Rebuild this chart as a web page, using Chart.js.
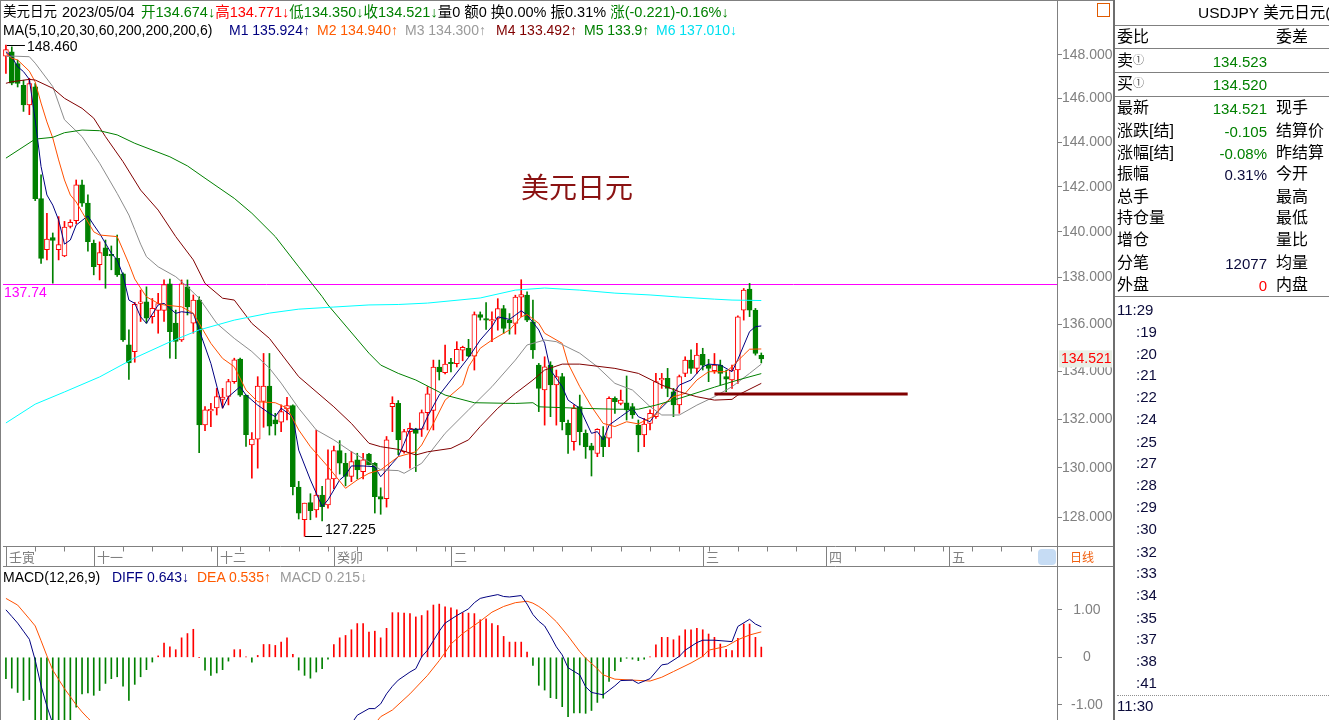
<!DOCTYPE html>
<html><head><meta charset="utf-8">
<title>美元日元</title>
<script src="https://cdn.jsdelivr.net/npm/chart.js@4.4.1/dist/chart.umd.min.js"></script>
<style>
*{box-sizing:border-box}
html,body{margin:0;padding:0;background:#fff;overflow:hidden}
body{width:1329px;height:720px;position:relative;font-family:"Liberation Sans","Noto Sans CJK SC",sans-serif;color:#000}
.a{position:absolute;white-space:nowrap;line-height:1}
.h{font-size:14px}
.h1{font-size:14.5px}
canvas{position:absolute}
.ln{position:absolute;background:#808080}
.rv{font-size:15px}
.cj{font-size:16px}
.tm{font-size:15px;color:#0b0b3b}
.g{color:#008000}.r{color:#ff0000}
</style></head><body>
<canvas id="c1" width="1110" height="567" style="left:3px;top:0px"></canvas>
<canvas id="c2" width="1110" height="193" style="left:3px;top:547px"></canvas>

<div class="ln" style="left:0;top:0;width:1114px;height:1px"></div>
<div class="ln" style="left:0;top:0;width:1px;height:720px"></div>
<div class="ln" style="left:1057px;top:0;width:1px;height:40px"></div>
<div class="ln" style="left:1113px;top:0;width:2px;height:720px;background:#6e6e6e"></div>

<!-- header line 1 -->
<div class="a" style="left:3px;top:5px;font-size:13.5px">美元日元</div>
<div class="a h1" style="left:62px;top:5px">2023/05/04</div>
<div class="a h1" style="left:141px;top:5px"><span class="g">开134.674↓</span><span class="r">高134.771↓</span><span class="g">低134.350↓</span><span class="g">收134.521↓</span>量0 额0 换0.00% 振0.31% <span class="g">涨(-0.221)-0.16%↓</span></div>
<!-- header line 2 -->
<div class="a h" style="left:3px;top:23px">MA(5,10,20,30,60,200,200,200,6)</div>
<div class="a h" style="left:229px;top:23px;color:#000080">M1 135.924↑</div>
<div class="a h" style="left:317px;top:23px;color:#ff5a00">M2 134.940↑</div>
<div class="a h" style="left:405px;top:23px;color:#9a9a9a">M3 134.300↑</div>
<div class="a h" style="left:496px;top:23px;color:#800000">M4 133.492↑</div>
<div class="a h" style="left:584px;top:23px;color:#008000">M5 133.9↑</div>
<div class="a h" style="left:656px;top:23px;color:#00e0f0">M6 137.010↓</div>

<div class="a" style="left:521px;top:172px;font-size:28px;color:#8a1212;font-family:'Noto Sans CJK SC',sans-serif">美元日元</div>

<!-- MACD header -->
<div class="a h" style="left:3px;top:570px">MACD(12,26,9)</div>
<div class="a h" style="left:112px;top:570px;color:#000080">DIFF 0.643↓</div>
<div class="a h" style="left:197px;top:570px;color:#ff5a00">DEA 0.535↑</div>
<div class="a h" style="left:280px;top:570px;color:#9a9a9a">MACD 0.215↓</div>

<!-- icon -->
<div class="a" style="left:1097px;top:3px;width:13px;height:14px;border:1px solid #e05a00;background:#fff"></div>

<!-- right panel -->
<div class="a" style="left:1198px;top:5px;font-size:15.5px">USDJPY 美元日元(</div>
<div class="ln" style="left:1115px;top:25px;width:214px;height:1px"></div>
<div class="ln" style="left:1115px;top:48px;width:214px;height:1px"></div>
<div class="ln" style="left:1115px;top:72px;width:214px;height:1px"></div>
<div class="ln" style="left:1115px;top:96px;width:214px;height:1px"></div>
<div class="ln" style="left:1115px;top:296px;width:214px;height:1px"></div>

<div class="a cj" style="left:1117px;top:29px">委比</div>
<div class="a cj" style="left:1276px;top:29px">委差</div>
<div class="a cj" style="left:1117px;top:53px">卖<span style="font-size:11px;color:#555;vertical-align:2px">①</span></div>
<div class="a rv" style="right:62px;top:54px;color:#008000">134.523</div>
<div class="a cj" style="left:1117px;top:76px">买<span style="font-size:11px;color:#555;vertical-align:2px">①</span></div>
<div class="a rv" style="right:62px;top:77px;color:#008000">134.520</div>
<div class="a cj" style="left:1117px;top:100px">最新</div>
<div class="a rv" style="right:62px;top:101px;color:#008000">134.521</div>
<div class="a cj" style="left:1276px;top:100px">现手</div>
<div class="a cj" style="left:1117px;top:123px">涨跌[结]</div>
<div class="a rv" style="right:62px;top:124px;color:#008000">-0.105</div>
<div class="a cj" style="left:1276px;top:123px">结算价</div>
<div class="a cj" style="left:1117px;top:145px">涨幅[结]</div>
<div class="a rv" style="right:62px;top:146px;color:#008000">-0.08%</div>
<div class="a cj" style="left:1276px;top:145px">昨结算</div>
<div class="a cj" style="left:1117px;top:166px">振幅</div>
<div class="a rv" style="right:62px;top:167px;color:#0b0b3b">0.31%</div>
<div class="a cj" style="left:1276px;top:166px">今开</div>
<div class="a cj" style="left:1117px;top:189px">总手</div>
<div class="a cj" style="left:1276px;top:189px">最高</div>
<div class="a cj" style="left:1117px;top:210px">持仓量</div>
<div class="a cj" style="left:1276px;top:210px">最低</div>
<div class="a cj" style="left:1117px;top:232px">增仓</div>
<div class="a cj" style="left:1276px;top:232px">量比</div>
<div class="a cj" style="left:1117px;top:255px">分笔</div>
<div class="a rv" style="right:62px;top:256px;color:#0b0b3b">12077</div>
<div class="a cj" style="left:1276px;top:255px">均量</div>
<div class="a cj" style="left:1117px;top:277px">外盘</div>
<div class="a rv" style="right:62px;top:278px;color:#ff0000">0</div>
<div class="a cj" style="left:1276px;top:277px">内盘</div>

<div class="a tm" style="left:1117px;top:302px">11:29</div>
<div class="a tm" style="left:1136px;top:324px">:19</div>
<div class="a tm" style="left:1136px;top:346px">:20</div>
<div class="a tm" style="left:1136px;top:367px">:21</div>
<div class="a tm" style="left:1136px;top:389px">:22</div>
<div class="a tm" style="left:1136px;top:411px">:24</div>
<div class="a tm" style="left:1136px;top:434px">:25</div>
<div class="a tm" style="left:1136px;top:455px">:27</div>
<div class="a tm" style="left:1136px;top:477px">:28</div>
<div class="a tm" style="left:1136px;top:499px">:29</div>
<div class="a tm" style="left:1136px;top:521px">:30</div>
<div class="a tm" style="left:1136px;top:544px">:32</div>
<div class="a tm" style="left:1136px;top:565px">:33</div>
<div class="a tm" style="left:1136px;top:587px">:34</div>
<div class="a tm" style="left:1136px;top:610px">:35</div>
<div class="a tm" style="left:1136px;top:631px">:37</div>
<div class="a tm" style="left:1136px;top:653px">:38</div>
<div class="a tm" style="left:1136px;top:675px">:41</div>
<div class="a" style="left:1117px;top:695px;width:212px;height:0;border-top:1px dotted #909090"></div>
<div class="a tm" style="left:1117px;top:698px">11:30</div>

<script>
// ---------------- data ----------------
const slotCount = 180;
const candleOpen = [147.95,148.15,147.60,146.60,145.70,146.53,141.47,139.22,139.75,139.22,
138.94,140.24,140.49,142.08,141.27,139.50,138.56,139.30,139.01,138.84,
138.16,135.12,134.83,136.89,136.95,136.32,136.59,136.59,137.73,136.04,
135.33,137.60,136.04,137.03,131.76,132.34,132.46,132.82,132.94,133.56,
134.51,133.00,130.93,131.17,132.73,133.38,131.97,131.87,132.42,132.56,
129.21,127.89,128.58,128.29,128.89,128.49,129.54,130.70,130.18,129.64,
130.32,129.84,130.56,130.18,128.82,128.74,132.52,132.66,130.66,131.48,
131.58,131.58,132.27,132.36,134.18,133.94,134.37,134.32,134.89,134.97,
134.64,136.41,136.24,136.14,136.24,136.66,136.17,136.03,137.16,137.25,
136.10,134.26,133.21,134.26,133.42,133.77,131.82,131.07,132.52,131.41,
130.90,130.58,131.28,131.21,132.86,132.65,132.68,132.52,131.75,131.34,
131.82,132.10,133.63,133.70,133.14,132.59,133.91,134.47,134.12,134.71,
134.26,134.02,134.26,133.77,133.63,134.05,136.60,137.50,136.60,134.674];
const candleHigh = [148.46,148.38,147.76,146.83,146.92,146.68,142.53,140.82,139.95,140.67,
140.46,140.53,142.30,142.30,141.64,139.64,139.56,139.64,139.38,139.86,
138.21,135.75,136.93,137.46,137.60,137.10,137.32,137.90,137.94,136.60,
137.90,137.90,137.25,137.17,132.52,132.66,133.28,133.28,133.66,134.55,
134.55,133.00,131.44,133.77,134.75,134.75,132.24,132.59,132.91,132.59,
129.44,128.56,128.94,131.54,129.24,130.73,130.89,131.11,130.59,130.66,
130.59,130.59,130.59,130.21,129.18,131.28,132.93,132.77,131.58,131.83,
131.62,132.38,133.35,134.47,134.47,135.11,134.54,135.25,135.06,135.35,
136.52,136.52,136.92,136.52,137.09,136.80,136.45,137.24,137.91,137.39,
137.03,134.33,134.61,134.40,134.05,133.91,131.96,132.59,133.00,131.55,
131.00,131.60,131.69,132.93,132.93,133.21,133.80,132.65,131.96,132.03,
132.38,133.91,133.91,134.12,133.28,133.84,134.61,134.90,135.18,134.97,
134.50,134.75,134.47,134.05,134.26,136.35,137.53,137.75,136.67,134.771];
const candleLow = [147.15,146.62,146.52,145.40,145.25,141.38,138.62,138.77,137.76,138.77,
138.91,140.17,140.35,141.12,139.15,138.12,137.90,137.54,138.34,138.05,
135.26,133.66,134.38,136.11,136.04,136.04,135.61,136.11,134.55,134.53,
135.26,136.39,135.61,130.61,131.52,131.69,132.17,132.46,132.59,133.49,
132.94,130.87,129.57,129.98,131.66,131.34,131.34,131.48,131.97,128.89,
127.92,127.225,127.89,127.99,127.84,128.36,129.14,129.74,129.26,129.43,
129.54,129.54,130.11,128.16,128.11,128.40,131.48,130.53,130.59,129.98,
129.84,131.28,131.55,131.55,133.63,133.89,133.97,134.18,134.44,134.61,
134.05,136.17,135.77,135.25,135.74,135.60,135.57,135.57,136.31,136.10,
134.54,132.31,131.75,132.10,131.75,131.55,130.58,130.72,130.93,130.38,
129.66,130.45,130.45,130.86,132.24,132.59,131.96,132.03,130.65,130.86,
131.55,132.03,133.28,132.93,132.10,132.24,133.77,133.91,133.91,134.05,
133.56,133.91,133.42,133.14,133.28,133.49,136.17,136.32,134.68,134.350];
const candleClose = [148.25,146.70,146.68,145.70,146.68,141.47,138.84,139.68,139.62,139.44,
140.21,140.42,142.08,141.27,139.57,138.48,139.09,138.96,138.94,138.12,
135.33,134.35,136.85,136.95,136.25,136.67,136.88,137.70,135.68,135.26,
137.73,136.74,137.03,131.76,132.38,132.40,132.94,132.92,133.56,134.48,
133.00,131.35,131.17,133.38,133.38,131.71,131.80,132.31,132.56,129.23,
128.15,128.56,128.26,128.89,128.42,129.54,130.70,130.18,129.64,130.25,
129.91,130.32,130.12,128.82,128.72,131.14,132.66,131.14,131.48,131.62,
131.41,132.27,133.05,134.18,133.97,134.30,134.32,134.92,135.01,134.64,
136.41,136.28,136.17,136.19,136.66,135.81,136.05,137.16,137.27,136.17,
134.90,133.28,134.19,133.42,133.77,131.89,131.34,132.45,131.48,130.86,
130.72,131.58,130.86,132.86,132.72,132.79,132.38,132.17,131.34,131.79,
132.24,133.56,133.70,133.28,132.59,133.77,134.47,134.12,134.68,134.26,
134.12,134.26,133.91,133.67,134.05,136.31,137.46,136.60,134.75,134.521];

const priceTicks = [128,130,132,134,136,138,140,142,144,146,148];

const ma1Idx = [0,1,2,3,4,5,6,7,8,9,10,11,12,14,15,16,18,19,20,21,22,23,24,26,27,29,30,32,33,35,37,38,40,41,43,45,46,47,49,50,52,54,55,57,58,59,61,63,64,66,67,68,69,71,72,74,76,78,79,81,83,84,86,88,89,91,92,93,95,96,98,100,101,102,103,105,107,108,110,111,113,115,117,119,120,122,124,125,127,128,129];
const ma1Val = [148.15,147.92,147.46,147.23,146.87,145.01,142.90,141.63,141.18,140.52,139.46,139.64,140.30,140.70,140.30,139.93,139.06,138.77,138.11,137.03,136.89,136.31,136.03,136.82,136.89,136.46,136.53,136.46,135.75,134.33,132.45,132.93,133.35,133.00,132.58,132.24,132.10,132.45,132.10,130.72,129.50,128.42,128.69,129.50,129.70,130.07,130.07,130.04,129.63,130.18,130.45,130.99,131.58,131.58,132.10,133.00,133.63,134.26,134.58,135.32,135.89,136.31,136.20,136.57,136.39,135.75,135.18,134.05,133.35,132.79,132.45,131.41,131.48,131.14,131.75,132.10,132.45,132.10,131.89,132.24,132.72,133.42,133.63,134.19,134.30,134.26,133.98,134.50,135.68,135.89,135.92];
const ma2Idx = [0,1,2,4,5,6,7,8,9,10,11,12,13,15,16,19,20,21,22,23,24,26,27,30,32,33,35,37,39,41,43,46,48,50,52,55,58,60,62,64,67,70,71,73,75,78,79,81,83,86,88,89,91,92,95,96,98,100,101,102,104,106,108,111,112,114,116,118,120,123,124,126,127,129];
const ma2Val = [148.08,147.85,147.77,147.25,146.75,145.78,144.92,144.19,143.20,142.30,141.63,141.32,140.87,140.00,139.86,139.79,139.20,138.60,137.94,137.55,137.17,136.89,136.82,136.74,136.46,136.03,135.18,134.54,134.19,133.21,132.72,132.68,132.46,131.55,130.86,130.04,129.16,129.50,129.77,129.91,130.45,130.65,130.93,131.82,132.79,133.42,134.19,134.97,135.32,135.75,136.31,136.41,136.03,135.61,135.18,134.33,133.35,132.52,132.17,131.82,131.69,131.89,131.80,132.17,132.58,132.93,133.07,133.63,133.98,133.98,134.19,134.69,134.93,134.94];
const ma3Idx = [0,1,4,5,8,10,13,16,19,21,22,23,24,26,29,31,33,36,39,42,45,47,50,53,56,59,62,64,67,68,71,75,79,83,87,89,92,94,98,101,104,107,110,112,115,118,121,124,127,129];
const ma3Val = [147.92,147.95,147.92,147.62,146.54,145.02,144.25,143.05,141.70,140.74,140.10,139.46,138.91,138.47,138.04,137.60,137.11,136.03,135.39,134.83,134.13,133.50,132.45,131.55,131.14,130.65,130.24,129.91,129.88,129.77,130.18,131.41,132.38,133.35,134.47,135.11,135.32,135.25,134.76,134.19,133.49,133.21,132.52,132.17,132.17,132.58,132.93,133.35,133.91,134.30];
const ma4Idx = [0,1,4,5,8,10,13,15,17,20,23,26,29,32,34,37,39,42,45,50,56,59,62,64,67,70,72,76,79,81,84,87,90,92,95,98,104,108,112,115,118,121,124,125,129];
const ma4Val = [146.69,146.76,146.87,146.84,146.46,146.00,145.54,145.09,144.25,143.12,141.85,140.96,139.79,138.77,137.75,137.11,137.03,136.03,135.39,133.77,132.51,131.82,131.00,130.86,130.75,130.52,130.65,130.79,131.14,131.69,132.45,133.07,133.63,134.05,134.30,134.30,134.12,133.91,133.42,133.14,132.93,132.79,132.82,133.00,133.49];
const ma5Idx = [0,5,8,10,13,16,19,22,28,31,34,39,42,46,50,54,55,62,64,67,70,75,80,87,90,91,98,104,108,111,115,121,125,129];
const ma5Val = [143.28,144.14,144.22,144.43,144.55,144.52,144.33,143.95,143.34,142.93,142.38,141.48,140.82,139.79,138.47,137.18,136.82,134.76,134.26,133.91,133.63,133.00,132.68,132.65,132.68,132.51,132.45,132.41,132.41,132.58,132.86,133.33,133.63,133.90];
const ma6Idx = [0,5,10,16,22,28,33,39,45,50,56,62,67,72,81,87,92,98,104,110,115,121,124,129];
const ma6Val = [131.84,132.62,133.13,133.76,134.56,135.24,135.75,136.17,136.47,136.64,136.73,136.82,136.84,136.90,137.12,137.46,137.55,137.46,137.33,137.25,137.16,137.07,137.03,137.01];

const refLevel = 137.74;
const drawnLevel = 133.04, drawnFrom = 121, drawnTo = 154;

const monthNames = ['壬寅','十一','十二','癸卯','二','三','四','五'];
const monthIdx = [0,15,36,56,76,119,140,161];

const macdHist = [-0.45,-0.65,-0.74,-0.91,-0.89,-1.40,-1.60,-1.75,-1.70,-1.60,
-1.50,-1.38,-1.05,-0.77,-0.75,-0.80,-0.70,-0.55,-0.45,-0.41,
-0.61,-0.91,-0.57,-0.41,-0.26,-0.10,0.03,0.30,0.22,0.16,
0.41,0.50,0.59,0.00,-0.27,-0.38,-0.33,-0.26,-0.08,0.16,
0.16,0.01,-0.10,0.04,0.27,0.27,0.25,0.32,0.41,0.06,
-0.27,-0.38,-0.44,-0.31,-0.24,-0.04,0.27,0.41,0.46,0.58,
0.71,0.71,0.53,0.55,0.41,0.61,0.94,0.94,0.93,0.92,
0.85,0.88,0.98,1.10,1.12,1.06,1.04,1.00,0.94,0.93,
0.92,0.79,0.81,0.71,0.67,0.44,0.32,0.32,0.32,0.11,
-0.17,-0.59,-0.69,-0.85,-0.87,-1.04,-1.25,-1.17,-1.17,-1.18,
-1.12,-0.95,-0.86,-0.51,-0.28,-0.09,-0.02,-0.04,-0.07,-0.04,
0.01,0.26,0.42,0.42,0.37,0.45,0.58,0.58,0.61,0.58,
0.49,0.42,0.28,0.17,0.14,0.40,0.70,0.70,0.42,0.215];
const diffIdx = [0,1,2,3,4,5,6,7,8,30,59,60,62,63,64,65,66,67,69,70,71,72,73,74,75,76,77,78,79,80,81,82,84,85,86,88,89,90,91,92,93,94,95,96,98,99,100,102,104,105,107,108,110,112,113,115,116,118,119,121,124,125,127,128,129];
const diffVal = [1.00,0.86,0.72,0.55,0.38,-0.06,-0.60,-1.03,-1.40,null,-1.40,-1.22,-1.08,-1.08,-0.98,-0.77,-0.61,-0.48,-0.31,-0.24,0.01,0.15,0.35,0.55,0.72,0.80,0.88,0.95,1.02,1.15,1.24,1.27,1.32,1.28,1.27,1.30,1.12,0.90,0.76,0.66,0.45,0.22,0.05,-0.22,-0.37,-0.62,-0.74,-0.79,-0.60,-0.49,-0.48,-0.55,-0.45,-0.16,-0.14,0.02,0.15,0.31,0.36,0.36,0.33,0.65,0.80,0.70,0.643];
const deaIdx = [0,2,4,5,6,7,8,10,12,13,14,15,40,63,64,66,69,72,74,75,76,78,81,83,85,87,89,90,91,92,94,96,98,99,101,102,104,107,110,112,114,117,119,120,123,125,127,129];
const deaVal = [1.24,1.10,0.81,0.66,0.35,0.03,-0.27,-0.66,-1.00,-1.15,-1.28,-1.40,null,-1.40,-1.25,-1.11,-0.77,-0.38,-0.07,0.10,0.28,0.50,0.76,0.95,1.07,1.15,1.18,1.14,1.07,0.98,0.75,0.45,0.12,-0.02,-0.24,-0.37,-0.46,-0.48,-0.50,-0.42,-0.30,-0.12,0.02,0.15,0.23,0.37,0.47,0.535];
const macdTicks = [-1,0,1];

// ---------------- chart ----------------
Chart.defaults.font.family = '"Liberation Sans","Noto Sans CJK SC",sans-serif';
const UP = '#ff0000', DN = '#008000';
const isUp = candleClose.map((c,i)=>c >= candleOpen[i]);

function lineDs(idx, val, color, width){
  return {type:'line', data: idx.map((x,i)=>({x, y: val[i]})), borderColor: color, backgroundColor: color,
    borderWidth: width || 1, pointRadius: 0, fill: false, tension: 0, order: 0, spanGaps: false};
}

const overlay1 = {
  id: 'overlay1',
  beforeDatasetsDraw(chart){
    const {ctx, chartArea: ca, scales: {y: ys}} = chart;
    const yr = Math.round(ys.getPixelForValue(refLevel)) + 0.5;
    ctx.save();
    ctx.strokeStyle = '#ff00ff'; ctx.lineWidth = 1;
    ctx.beginPath(); ctx.moveTo(ca.left, yr); ctx.lineTo(ca.right, yr); ctx.stroke();
    ctx.restore();
  },
  afterDraw(chart){
    const {ctx, chartArea: ca, scales: {x: xs, y: ys}} = chart;
    ctx.save();
    const yr = Math.round(ys.getPixelForValue(refLevel)) + 0.5;
    ctx.font = '14px "Liberation Sans"';
    ctx.fillStyle = '#ff00ff'; ctx.textAlign = 'left'; ctx.textBaseline = 'top';
    ctx.fillText(refLevel.toFixed(2), ca.left + 1, yr + 2);
    let hiI = 0, loI = 0;
    candleHigh.forEach((v,i)=>{ if (v > candleHigh[hiI]) hiI = i; });
    candleLow.forEach((v,i)=>{ if (v < candleLow[loI]) loI = i; });
    ctx.strokeStyle = '#000'; ctx.fillStyle = '#000'; ctx.lineWidth = 1;
    const xh = xs.getPixelForValue(hiI), yh = Math.round(ys.getPixelForValue(candleHigh[hiI])) + 0.5;
    ctx.beginPath(); ctx.moveTo(xh + 1, yh); ctx.lineTo(xh + 19, yh); ctx.stroke();
    ctx.textBaseline = 'middle';
    ctx.fillText(candleHigh[hiI].toFixed(3), xh + 21, yh + 1.5);
    const xl = xs.getPixelForValue(loI), yl = Math.round(ys.getPixelForValue(candleLow[loI])) + 0.5;
    ctx.beginPath(); ctx.moveTo(xl + 0.5, yl); ctx.lineTo(xl + 17.5, yl); ctx.stroke();
    ctx.textBaseline = 'alphabetic';
    ctx.fillText(candleLow[loI].toFixed(3), xl + 20.5, yl - 3);
    const last = candleClose[candleClose.length - 1];
    const yp = ys.getPixelForValue(last);
    ctx.fillStyle = '#e9efe6';
    ctx.fillRect(ca.right + 2, yp - 8.5, 53, 17);
    ctx.fillStyle = '#ff0000'; ctx.textBaseline = 'middle';
    ctx.fillText(last.toFixed(3), ca.right + 4, yp + 0.5);
    const y1 = ca.bottom + 1.5, y2 = ca.bottom + 21.5;
    ctx.strokeStyle = '#808080';
    ctx.beginPath();
    ctx.moveTo(0, y1); ctx.lineTo(chart.width, y1);
    ctx.moveTo(0, y2); ctx.lineTo(chart.width, y2);
    ctx.moveTo(Math.round(ca.right) + 0.5, y1); ctx.lineTo(Math.round(ca.right) + 0.5, y2);
    for (let i = 0; i < slotCount; i += 5){
      const px = Math.round(xs.getPixelForValue(i)) + 0.5;
      ctx.moveTo(px, y1); ctx.lineTo(px, y1 + 5);
    }
    monthIdx.forEach(m=>{
      const px = Math.round(xs.getPixelForValue(m)) + 0.5;
      ctx.moveTo(px, y1); ctx.lineTo(px, y2);
    });
    ctx.stroke();
    ctx.font = '13px "Noto Sans CJK SC"';
    ctx.fillStyle = '#808080'; ctx.textAlign = 'left'; ctx.textBaseline = 'middle';
    monthIdx.forEach((m,k)=>{
      const px = Math.round(xs.getPixelForValue(m));
      ctx.fillText(monthNames[k], px + 3, (y1 + y2) / 2 + 1);
    });
    ctx.fillStyle = '#c6dcf4';
    const kx = ca.right - 19, ky = y1 + 2.5, kw = 18, kh = 16, r = 4;
    ctx.beginPath();
    ctx.moveTo(kx + r, ky); ctx.lineTo(kx + kw - r, ky); ctx.quadraticCurveTo(kx + kw, ky, kx + kw, ky + r);
    ctx.lineTo(kx + kw, ky + kh - r); ctx.quadraticCurveTo(kx + kw, ky + kh, kx + kw - r, ky + kh);
    ctx.lineTo(kx + r, ky + kh); ctx.quadraticCurveTo(kx, ky + kh, kx, ky + kh - r);
    ctx.lineTo(kx, ky + r); ctx.quadraticCurveTo(kx, ky, kx + r, ky); ctx.fill();
    ctx.fillStyle = '#f06010'; ctx.font = '12px "Noto Sans CJK SC"';
    ctx.fillText('日线', ca.right + 13, (y1 + y2) / 2 + 1);
    ctx.restore();
  }
};

new Chart(document.getElementById('c1'), {
  data: {
    datasets: [
      lineDs([drawnFrom, drawnTo], [drawnLevel, drawnLevel], '#800000', 3),
      lineDs(ma6Idx, ma6Val, '#00ffff', 1),
      lineDs(ma5Idx, ma5Val, '#008000', 1),
      lineDs(ma4Idx, ma4Val, '#800000', 1),
      lineDs(ma3Idx, ma3Val, '#8c8c8c', 1),
      lineDs(ma2Idx, ma2Val, '#ff5000', 1),
      lineDs(ma1Idx, ma1Val, '#000080', 1),
      {type:'bar', data: candleOpen.map((o,i)=>({x:i, y:[o, candleClose[i]]})),
        backgroundColor: isUp.map(u=>u ? '#ffffff' : DN), borderColor: isUp.map(u=>u ? UP : DN),
        borderWidth: 1, borderSkipped: false, barThickness: 5, grouped: false, minBarLength: 1, order: 1},
      {type:'bar', data: candleHigh.map((h,i)=>({x:i, y:[candleLow[i], h]})),
        backgroundColor: isUp.map(u=>u ? UP : DN), borderWidth: 0, barThickness: 1, grouped: false, order: 2}
    ]
  },
  options: {
    responsive: false, animation: false, events: [],
    layout: {autoPadding: false, padding: {top: 40, bottom: 22, left: 0, right: 0}},
    plugins: {legend: {display: false}, tooltip: {enabled: false}},
    scales: {
      x: {type: 'linear', min: -0.5, max: slotCount - 0.5, display: false, offset: false, bounds: 'data'},
      y: {type: 'logarithmic', position: 'right', min: 126.879, max: 148.699, beginAtZero: false,
        afterBuildTicks: s => { s.ticks = priceTicks.map(v => ({value: v})); },
        afterFit: s => { s.width = 56; },
        ticks: {callback: v => Number(v).toFixed(3), color: '#808080', font: {size: 14}, padding: 0, autoSkip: false, maxRotation: 0},
        grid: {drawOnChartArea: false, drawTicks: true, tickLength: 5, color: '#808080'},
        border: {display: true, color: '#808080'}}
    }
  },
  plugins: [overlay1]
});

new Chart(document.getElementById('c2'), {
  data: {
    datasets: [
      lineDs(diffIdx, diffVal, '#000080', 1),
      lineDs(deaIdx, deaVal, '#ff5000', 1),
      {type:'bar', data: macdHist.map((v,i)=>({x:i, y:v})), backgroundColor: macdHist.map(v=>v >= 0 ? UP : DN),
        borderWidth: 0, barThickness: 1, grouped: false, order: 2}
    ]
  },
  options: {
    responsive: false, animation: false, events: [],
    layout: {autoPadding: false, padding: {top: 20, bottom: 20, left: 0, right: 0}},
    plugins: {legend: {display: false}, tooltip: {enabled: false}},
    scales: {
      x: {type: 'linear', min: -0.5, max: slotCount - 0.5, display: false, offset: false, bounds: 'data'},
      y: {type: 'linear', position: 'right', min: -1.32, max: 1.901, beginAtZero: false,
        afterBuildTicks: s => { s.ticks = macdTicks.map(v => ({value: v})); },
        afterFit: s => { s.width = 56; },
        ticks: {callback: v => v === 0 ? '0' : Number(v).toFixed(2), color: '#808080', font: {size: 14}, padding: 9, crossAlign: 'center', autoSkip: false},
        grid: {drawOnChartArea: false, drawTicks: true, tickLength: 5, color: '#808080'},
        border: {display: true, color: '#808080'}}
    }
  }
});
</script>
</body></html>
